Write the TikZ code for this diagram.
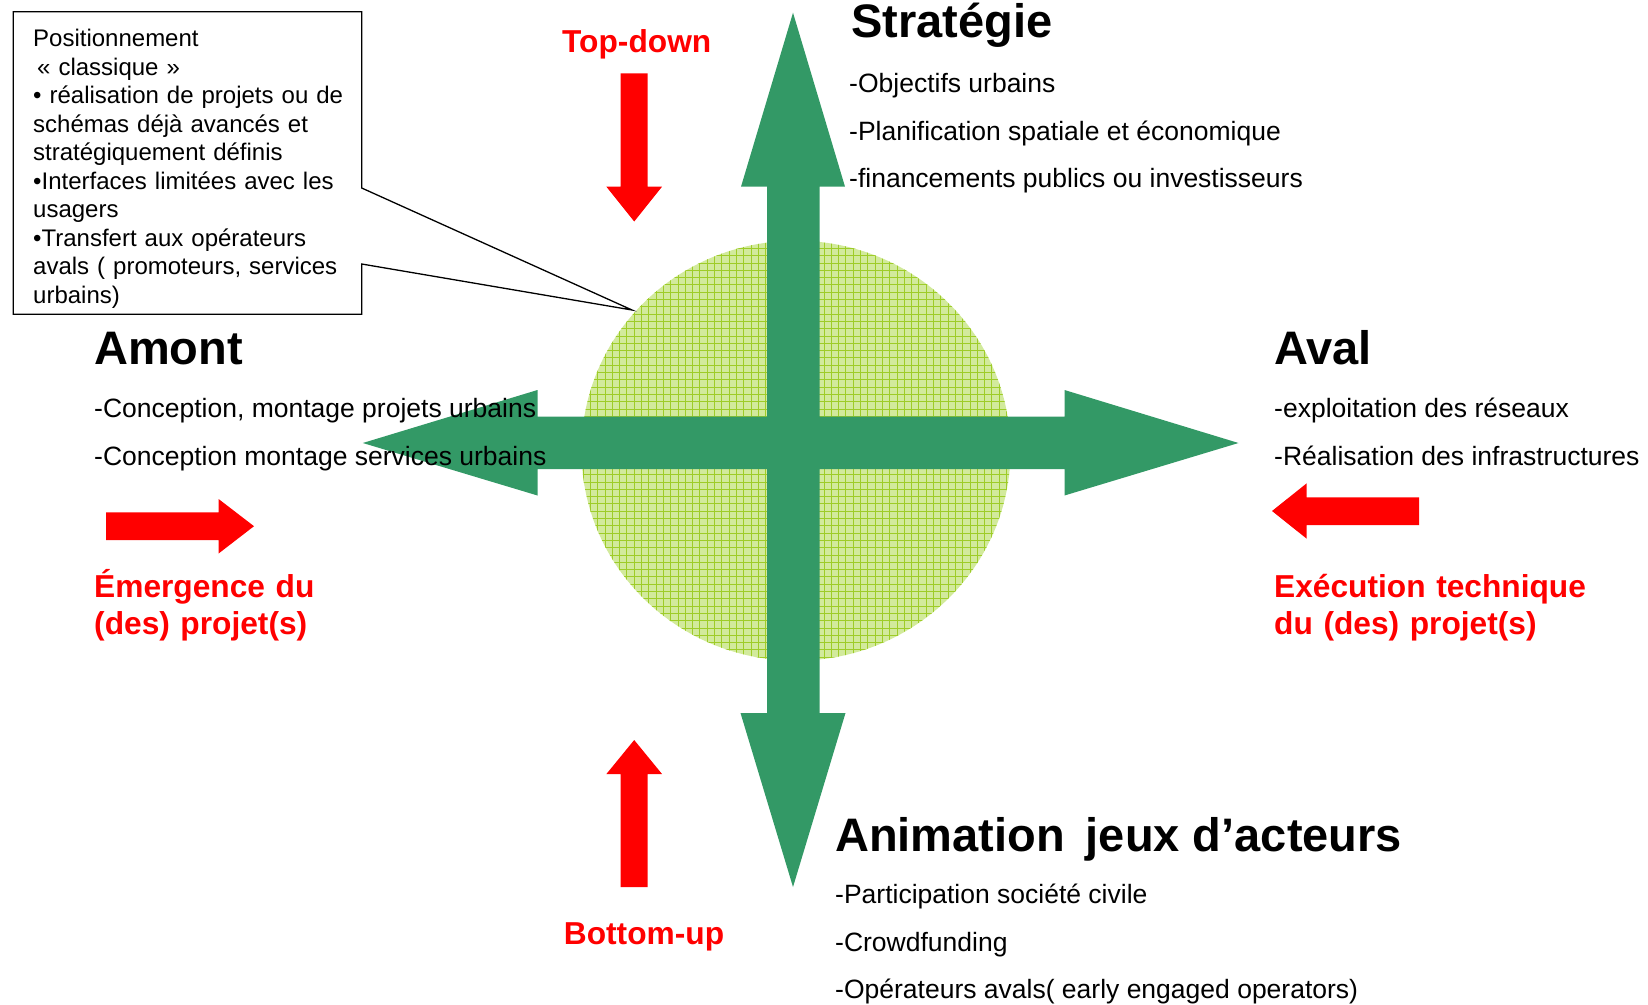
\documentclass[tikz,border=0pt]{standalone}
\usepackage{fontspec}
\setmainfont{Liberation Sans}

\definecolor{crossgreen}{RGB}{51,153,102}
\definecolor{discgreen}{RGB}{210,234,156}
\definecolor{gridgreen}{RGB}{158,204,40}

\tikzset{
  heading/.style={anchor=base west, inner sep=0pt, font=\fontsize{47}{52}\selectfont\bfseries},
  entry/.style={anchor=base west, inner sep=0pt, font=\fontsize{26.5}{31}\selectfont},
  flow/.style={anchor=base west, inner sep=0pt, text=red, text width=420pt, align=left,
    font=\fontsize{31.7}{37}\selectfont\bfseries},
  note/.style={anchor=base west, inner sep=0pt, text width=330pt, align=left,
    font=\fontsize{24}{28.5}\selectfont},
  gridline/.style={gridgreen, line width=0.8pt},
}

\begin{document}
\begin{tikzpicture}[x=1pt, y=-1pt]
    \useasboundingbox (0,0) rectangle (1648,1004);

    % disc
    \fill[discgreen] (796,450.7) ellipse [x radius=214.5, y radius=210];
    \begin{scope}
        \clip (796,450.7) ellipse [x radius=214.5, y radius=210];
        \foreach \gx in {583,590.3,...,1012}
            \draw[gridline] (\gx,238) -- (\gx,662);
        \foreach \gy in {241,248.3,...,662}
            \draw[gridline] (580,\gy) -- (1012,\gy);
    \end{scope}

    % cross
    \fill[crossgreen] (793,12.7) -- (845,186.7) -- (819.5,186.7) -- (819.5,416.5)
        -- (1064.5,416.5) -- (1064.5,390) -- (1238.5,443) -- (1064.5,495.5) -- (1064.5,469)
        -- (819.5,469) -- (819.5,713) -- (845.5,713) -- (793,887) -- (740.5,713) -- (767,713)
        -- (767,469) -- (537.5,469) -- (537.5,495.5) -- (362.8,443) -- (537.5,390)
        -- (537.5,416.5) -- (767,416.5) -- (767,186.7) -- (741,186.7) -- cycle;

    % red arrows
    \fill[red] (620.7,73.3) -- (647.7,73.3) -- (647.7,186.7) -- (662,186.7) -- (634.2,221.5)
        -- (606.4,186.7) -- (620.7,186.7) -- cycle;
    \fill[red] (620.7,887) -- (647.7,887) -- (647.7,774) -- (662,774) -- (634.2,740)
        -- (606.4,774) -- (620.7,774) -- cycle;
    \fill[red] (106,512.3) -- (218.6,512.3) -- (218.6,499) -- (254,526.2) -- (218.6,553.5)
        -- (218.6,540) -- (106,540) -- cycle;
    \fill[red] (1419,497.3) -- (1306.7,497.3) -- (1306.7,483.3) -- (1272,511) -- (1306.7,538.7)
        -- (1306.7,525) -- (1419,525) -- cycle;

    % callout
    \coordinate (tip) at (632,310);
    \draw[line width=1.3pt] (13.3,11.7) -- (361.7,11.7) -- (361.7,188) -- (tip)
        -- (361.7,264) -- (361.7,314.3) -- (13.3,314.3) -- cycle;
    \node[note] (classic) at (33,46.5){Positionnement\\
        \,«~classique~»\\
        • réalisation de projets ou de\\
        schémas déjà avancés et\\
        stratégiquement définis\\
        •Interfaces limitées avec les\\
        usagers\\
        •Transfert aux opérateurs\\
        avals ( promoteurs, services\\
        urbains)};

    % top
    \node[flow, text width=] (topdown) at (562,52.5){Top-down};
    \node[heading] (strat) at (851,37.5){Stratégie};
        \node[entry] (strat1) at (849,92.5){-Objectifs urbains};
        \node[entry] (strat2) at (849,140){-Planification spatiale et économique};
        \node[entry] (strat3) at (849,187.5){-financements publics ou investisseurs};

    % left
    \node[heading] (amont) at (94,364){Amont};
        \node[entry] (amont1) at (94,417.5){-Conception, montage projets urbains};
        \node[entry] (amont2) at (94,465.5){-Conception montage services urbains};
    \node[flow] (emerg) at (94,597){Émergence du\\(des) projet(s)};

    % right
    \node[heading] (aval) at (1274,364){Aval};
        \node[entry] (aval1) at (1274,417.5){-exploitation des réseaux};
        \node[entry] (aval2) at (1274,465.5){-Réalisation des infrastructures};
    \node[flow] (exec) at (1274,597){Exécution technique\\du (des) projet(s)};

    % bottom
    \node[flow, text width=] (bottomup) at (563.7,944){Bottom-up};
    \node[heading] (anim) at (835,851){Animation\, jeux d’acteurs};
        \node[entry] (anim1) at (835,903){-Participation société civile};
        \node[entry] (anim2) at (835,951){-Crowdfunding};
        \node[entry] (anim3) at (835,998.5){-Opérateurs avals( early engaged operators)};
\end{tikzpicture}
\end{document}
